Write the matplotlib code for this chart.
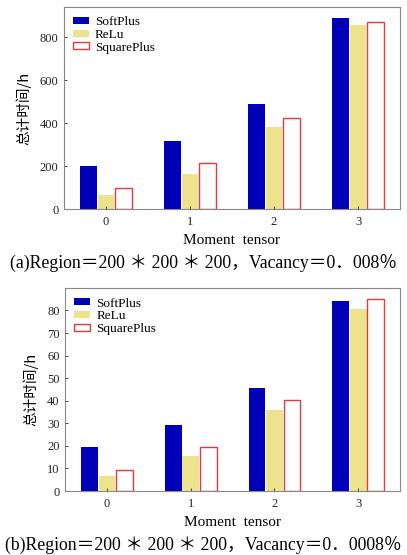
import matplotlib
matplotlib.use("Agg")
import matplotlib.pyplot as plt
import numpy as np

categories = ["0", "1", "2", "3"]
series = ["SoftPlus", "ReLu", "SquarePlus"]
a_softplus = [201, 316, 488, 891]
a_relu = [66, 163, 381, 857]
a_squareplus = [98, 212, 425, 870]
b_softplus = [19.6, 29.1, 45.5, 84.0]
b_relu = [6.5, 15.5, 35.7, 80.7]
b_squareplus = [9.3, 19.5, 40.3, 85.2]
a_yticks = [0, 200, 400, 600, 800]
b_yticks = [0, 10, 20, 30, 40, 50, 60, 70, 80]
xlabel = "Moment  tensor"
ylabel = "总计时间/h"
cap_a = "(a)Region＝200 ＊ 200 ＊ 200，Vacancy＝0．008％"
cap_b = "(b)Region＝200 ＊ 200 ＊ 200，Vacancy＝0．0008％"

SERIF = ["Liberation Serif", "Noto Sans CJK SC", "DejaVu Sans"]
CJK = ["Noto Sans CJK SC", "DejaVu Sans"]
plt.rcParams["font.family"] = SERIF

fig = plt.figure(figsize=(4.07, 5.55), dpi=100)
axA = fig.add_axes([0.157, 0.6234, 0.826, 0.3640])
axB = fig.add_axes([0.160, 0.1153, 0.823, 0.3652])

blue = "#0000b8"
yellow = "#ece38c"
red = "#e8383d"

def draw(ax, s, r, q, yticks, ylim):
    x = np.arange(len(categories))
    w = 0.2
    off = 0.21
    ax.bar(x - off, s, w, color=blue, label=series[0])
    ax.bar(x, r, w, color=yellow, label=series[1])
    ax.bar(x + off, q, w, facecolor="white", edgecolor=red, linewidth=1.0, label=series[2])
    ax.set_xlim(-0.5, 3.5)
    ax.set_ylim(*ylim)
    ax.set_xticks(x)
    ax.set_xticklabels(categories)
    ax.set_yticks(yticks)
    ax.tick_params(direction="in", length=2, labelsize=9, colors="#222222", width=0.6, pad=4)
    ax.tick_params(axis="x", pad=5)
    for sp in ax.spines.values():
        sp.set_color("#888888")
        sp.set_linewidth(0.8)
    ax.set_xlabel(xlabel, fontsize=11, labelpad=4)
    ax.set_ylabel(ylabel, fontsize=10.5, family=CJK, labelpad=6)
    ax.legend(loc="upper left", bbox_to_anchor=(0.0, 1.0), frameon=False,
              fontsize=9.5, handlelength=1.2, handleheight=0.45,
              handletextpad=0.45, labelspacing=0.05, borderaxespad=0.3, borderpad=0.4)

draw(axA, a_softplus, a_relu, a_squareplus, a_yticks, (0, 940))
draw(axB, b_softplus, b_relu, b_squareplus, b_yticks, (0, 89.8))

fig.text(0.5, 1 - 263 / 555, cap_a, ha="center", va="center", fontsize=12.8)
fig.text(0.5, 1 - 545 / 555, cap_b, ha="center", va="center", fontsize=12.8)

fig.savefig("out.png", dpi=100)
